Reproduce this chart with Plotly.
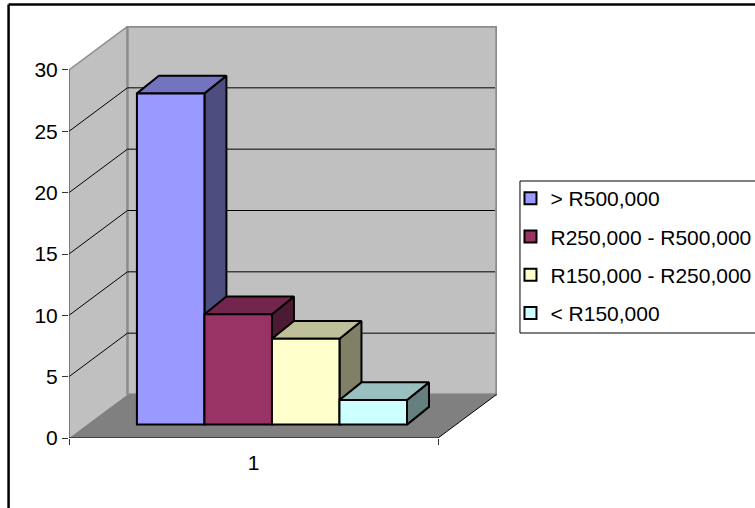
import plotly.graph_objects as go

# ---- data ----
categories = ["1"]
series_names = ["> R500,000", "R250,000 - R500,000", "R150,000 - R250,000", "< R150,000"]
series_values = [27, 9, 7, 2]
y_ticks = [0, 5, 10, 15, 20, 25, 30]
front_colors = ["#9999FF", "#993366", "#FFFFCC", "#CCFFFF"]
top_colors = ["#7373BF", "#73264D", "#BFBF99", "#99BFBF"]
side_colors = ["#4D4D80", "#4D1A33", "#808066", "#668080"]

# ---- geometry (axis units) ----
W, H = 755, 508
L, R, T, B = 69, 497.5, 26, 438
UX = 369.5            # px per category
UY = 12.267           # px per y unit
WALL_DX = 58.5 / UX
WALL_DY = 43.5 / UY
BAR_X0 = 68 / UX
BAR_W = 67.6 / UX
BAR_BASE = 13.4 / UY
BAR_DX = 22 / UX
BAR_DY = 17.7 / UY
XR = [0, (R - L) / UX]
YR = [0, (B - T) / UY]
YMAX = y_ticks[-1]


def px(x):
    return (x - L) / (R - L)


def py(y):
    return (B - y) / (B - T)


def poly(xs, ys, fill, line, width):
    return go.Scatter(
        x=xs + xs[:1], y=ys + ys[:1], mode="lines", fill="toself", fillcolor=fill,
        line=dict(color=line, width=width), showlegend=False, hoverinfo="skip",
        cliponaxis=False,
    )


def seg(xs, ys, color, width):
    return go.Scatter(
        x=xs, y=ys, mode="lines", line=dict(color=color, width=width),
        showlegend=False, hoverinfo="skip", cliponaxis=False,
    )


fig = go.Figure()

# walls and floor
fig.add_trace(poly([0, WALL_DX, WALL_DX, 0], [0, WALL_DY, YMAX + WALL_DY, YMAX], "#C0C0C0", "rgba(0,0,0,0)", 0))
fig.add_trace(poly([WALL_DX, 1 + WALL_DX, 1 + WALL_DX, WALL_DX],
                   [WALL_DY, WALL_DY, YMAX + WALL_DY, YMAX + WALL_DY], "#C0C0C0", "#8C8C8C", 2.5))
fig.add_trace(poly([0, 1, 1 + WALL_DX, WALL_DX], [0, 0, WALL_DY, WALL_DY], "#808080", "rgba(0,0,0,0)", 0))
fig.add_trace(seg([0, WALL_DX], [YMAX, YMAX + WALL_DY], "#8C8C8C", 1.5))
for t in y_ticks[1:-1]:
    fig.add_trace(seg([0, WALL_DX, 1 + WALL_DX - 0.004], [t, t + WALL_DY, t + WALL_DY], "#000000", 1))
fig.add_trace(seg([0, 0], [0, YMAX], "#333333", 1))
fig.add_trace(seg([0, 1, 1 + WALL_DX], [0, 0, WALL_DY], "#000000", 1))

# bar sides and tops, back to front
for i, v in enumerate(series_values):
    x0 = BAR_X0 + i * BAR_W
    x1 = x0 + BAR_W
    y0 = BAR_BASE
    y1 = BAR_BASE + v
    fig.add_trace(poly([x1, x1 + BAR_DX, x1 + BAR_DX, x1],
                       [y0, y0 + BAR_DY, y1 + BAR_DY, y1], side_colors[i], "#000000", 2))
    fig.add_trace(poly([x0, x1, x1 + BAR_DX, x0 + BAR_DX],
                       [y1, y1, y1 + BAR_DY, y1 + BAR_DY], top_colors[i], "#000000", 2))

# bar fronts on an overlaid axis pair so they sit above the sides
for i, v in enumerate(series_values):
    fig.add_trace(go.Bar(
        x=[BAR_X0 + (i + 0.5) * BAR_W], y=[v], base=[BAR_BASE], width=[BAR_W],
        name=series_names[i], legendgroup=series_names[i],
        marker=dict(color=front_colors[i], line=dict(color="#000000", width=2)),
        xaxis="x2", yaxis="y2", hovertemplate="%{y}<extra>" + series_names[i] + "</extra>",
    ))

font = dict(family="Liberation Sans, Arial, sans-serif", size=21, color="#000000")

fig.update_layout(
    width=W, height=H, autosize=False,
    margin=dict(l=L, r=W - R, t=T, b=H - B, pad=0, autoexpand=False),
    paper_bgcolor="#FFFFFF", plot_bgcolor="#FFFFFF",
    font=font, barmode="overlay",
    xaxis=dict(
        range=XR, tickmode="array", tickvals=[0.5], ticktext=categories, ticks="",
        showgrid=False, zeroline=False, showline=False, ticklabelstandoff=10, tickfont=font,
        minor=dict(tickmode="array", tickvals=[0, 1], ticks="outside", ticklen=6,
                   tickcolor="#333333", tickwidth=1, showgrid=False),
    ),
    yaxis=dict(
        range=YR, tickmode="array", tickvals=y_ticks, ticks="outside", ticklen=6,
        tickcolor="#333333", tickwidth=1, showgrid=False, zeroline=False, showline=False,
        ticklabelstandoff=0, tickfont=font,
    ),
    xaxis2=dict(range=XR, overlaying="x", visible=False),
    yaxis2=dict(range=YR, overlaying="y", visible=False),
    legend=dict(
        x=px(515), xanchor="left", y=py(178), yanchor="top",
        traceorder="grouped", tracegroupgap=8, borderwidth=0,
        bgcolor="rgba(0,0,0,0)", font=font, indentation=-4,
    ),
    shapes=[
        # outer chart frame
        dict(type="line", xref="paper", yref="paper", x0=px(8.5), x1=px(8.5), y0=py(4.5), y1=py(520),
             line=dict(color="#000000", width=2.5)),
        dict(type="line", xref="paper", yref="paper", x0=px(8.5), x1=px(770), y0=py(4.5), y1=py(4.5),
             line=dict(color="#000000", width=2.5)),
        # legend box
        dict(type="rect", xref="paper", yref="paper", x0=px(520.5), x1=px(770), y0=py(181), y1=py(333),
             line=dict(color="#000000", width=1)),
    ],
)

fig.write_html("out.html", config={"displayModeBar": False},
               post_script="document.body.style.margin='0';")
